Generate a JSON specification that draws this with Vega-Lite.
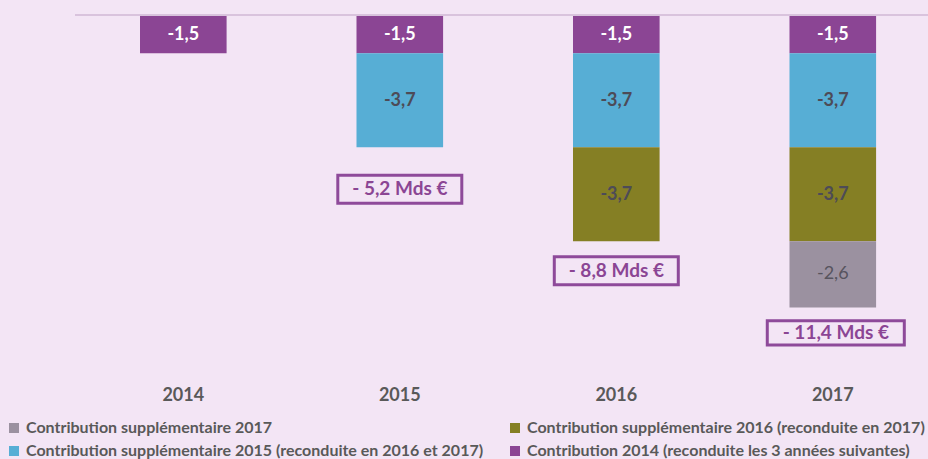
{
  "$schema": "https://vega.github.io/schema/vega-lite/v6.json",
  "width": 853,
  "height": 356,
  "autosize": {"type": "none"},
  "padding": {"left": 75, "top": 15, "right": 0, "bottom": 88},
  "background": "#F3E5F5",
  "config": {
    "font": "Lato",
    "view": {"stroke": null},
    "locale": {"number": {"decimal": ",", "thousands": " ", "grouping": [3], "currency": ["", " €"], "minus": "-"}}
  },
  "datasets": {
    "contrib": [
      {"year": "2014", "series": "Contribution 2014 (reconduite les 3 années suivantes)", "layer": 1, "value": -1.5},
      {"year": "2015", "series": "Contribution 2014 (reconduite les 3 années suivantes)", "layer": 1, "value": -1.5},
      {"year": "2015", "series": "Contribution supplémentaire 2015 (reconduite en 2016 et 2017)", "layer": 2, "value": -3.7},
      {"year": "2016", "series": "Contribution 2014 (reconduite les 3 années suivantes)", "layer": 1, "value": -1.5},
      {"year": "2016", "series": "Contribution supplémentaire 2015 (reconduite en 2016 et 2017)", "layer": 2, "value": -3.7},
      {"year": "2016", "series": "Contribution supplémentaire 2016 (reconduite en 2017)", "layer": 3, "value": -3.7},
      {"year": "2017", "series": "Contribution 2014 (reconduite les 3 années suivantes)", "layer": 1, "value": -1.5},
      {"year": "2017", "series": "Contribution supplémentaire 2015 (reconduite en 2016 et 2017)", "layer": 2, "value": -3.7},
      {"year": "2017", "series": "Contribution supplémentaire 2016 (reconduite en 2017)", "layer": 3, "value": -3.7},
      {"year": "2017", "series": "Contribution supplémentaire 2017", "layer": 4, "value": -2.6}
    ],
    "totals": [
      {"year": "2015", "total": -5.2, "label": "- 5,2 Mds €"},
      {"year": "2016", "total": -8.8, "label": "- 8,8 Mds €"},
      {"year": "2017", "total": -11.4, "label": "- 11,4 Mds €"}
    ]
  },
  "data": {"name": "contrib"},
  "transform": [
    {"stack": "value", "groupby": ["year"], "sort": [{"field": "layer", "order": "ascending"}], "as": ["v0", "v1"], "offset": "zero"}
  ],
  "encoding": {
    "x": {
      "field": "year",
      "type": "nominal",
      "sort": ["2014", "2015", "2016", "2017"],
      "scale": {"domain": ["2014", "2015", "2016", "2017"], "paddingInner": 0.6, "paddingOuter": 0.27, "align": 0.556},
      "axis": {
        "title": null,
        "orient": "bottom",
        "domain": false,
        "ticks": false,
        "labelAngle": 0,
        "labelFontSize": 18,
        "labelFontWeight": "bold",
        "labelColor": "#595959",
        "labelPadding": 15
      }
    }
  },
  "layer": [
    {
      "mark": {"type": "bar"},
      "encoding": {
        "y": {
          "field": "v0",
          "type": "quantitative",
          "scale": {"domain": [-14, 0], "nice": false, "zero": true},
          "axis": null
        },
        "y2": {"field": "v1"},
        "color": {
          "field": "series",
          "type": "nominal",
          "scale": {
            "domain": [
              "Contribution supplémentaire 2017",
              "Contribution supplémentaire 2015 (reconduite en 2016 et 2017)",
              "Contribution supplémentaire 2016 (reconduite en 2017)",
              "Contribution 2014 (reconduite les 3 années suivantes)"
            ],
            "range": ["#9B91A0", "#57AED5", "#857F24", "#8B4594"]
          },
          "legend": {
            "title": null,
            "orient": "none",
            "legendX": -69,
            "legendY": 405,
            "columns": 2,
            "symbolType": "square",
            "symbolSize": 100,
            "symbolStrokeWidth": 0,
            "labelFont": "Lato",
            "labelFontSize": 16,
            "labelFontWeight": "bold",
            "labelColor": "#595959",
            "labelLimit": 0,
            "labelOffset": 4,
            "rowPadding": 7,
            "columnPadding": 23,
            "padding": 0
          }
        }
      }
    },
    {
      "transform": [{"filter": "datum.layer === 1"}],
      "mark": {"type": "text", "fontSize": 18, "fontWeight": "bold", "baseline": "middle", "align": "center", "dy": 20, "color": "#FFFFFF"},
      "encoding": {
        "y": {"field": "v0", "type": "quantitative"},
        "text": {"field": "value", "type": "quantitative", "format": ".1f"}
      }
    },
    {
      "transform": [{"filter": "datum.layer === 2 || datum.layer === 3"}],
      "mark": {"type": "text", "fontSize": 18, "fontWeight": "bold", "baseline": "middle", "align": "center", "dy": 48, "color": "#4D4B57"},
      "encoding": {
        "y": {"field": "v0", "type": "quantitative"},
        "text": {"field": "value", "type": "quantitative", "format": ".1f"}
      }
    },
    {
      "transform": [{"filter": "datum.layer === 4"}],
      "mark": {"type": "text", "fontSize": 18, "fontWeight": "normal", "baseline": "middle", "align": "center", "dy": 33, "color": "#57545E"},
      "encoding": {
        "y": {"field": "v0", "type": "quantitative"},
        "text": {"field": "value", "type": "quantitative", "format": ".1f"}
      }
    },
    {
      "mark": {"type": "rule", "color": "#D8C3DC", "strokeWidth": 1.5},
      "encoding": {"y": {"datum": 0}, "x": {"value": 0}, "x2": {"value": 853}}
    },
    {
      "data": {"name": "totals"},
      "transform": [{"filter": "datum.year === '2015'"}],
      "layer": [
        {
          "mark": {"type": "point", "filled": false, "stroke": "#8E4A9A", "strokeWidth": 3, "opacity": 1, "size": 15376, "shape": "M-1,-0.226H1V0.226H-1Z", "yOffset": 42},
          "encoding": {"y": {"field": "total", "type": "quantitative"}}
        },
        {
          "mark": {"type": "text", "fontSize": 19, "fontWeight": "bold", "color": "#8B4594", "baseline": "middle", "align": "center", "yOffset": 42},
          "encoding": {"y": {"field": "total", "type": "quantitative"}, "text": {"field": "label"}}
        }
      ]
    },
    {
      "data": {"name": "totals"},
      "transform": [{"filter": "datum.year === '2016'"}],
      "layer": [
        {
          "mark": {"type": "point", "filled": false, "stroke": "#8E4A9A", "strokeWidth": 3, "opacity": 1, "size": 15376, "shape": "M-1,-0.226H1V0.226H-1Z", "yOffset": 32},
          "encoding": {"y": {"field": "total", "type": "quantitative"}}
        },
        {
          "mark": {"type": "text", "fontSize": 19, "fontWeight": "bold", "color": "#8B4594", "baseline": "middle", "align": "center", "yOffset": 32},
          "encoding": {"y": {"field": "total", "type": "quantitative"}, "text": {"field": "label"}}
        }
      ]
    },
    {
      "data": {"name": "totals"},
      "transform": [{"filter": "datum.year === '2017'"}],
      "layer": [
        {
          "mark": {"type": "point", "filled": false, "stroke": "#8E4A9A", "strokeWidth": 3, "opacity": 1, "size": 15376, "shape": "M-1.105,-0.194H1.105V0.194H-1.105Z", "yOffset": 28, "xOffset": 3},
          "encoding": {"y": {"field": "total", "type": "quantitative"}}
        },
        {
          "mark": {"type": "text", "fontSize": 19, "fontWeight": "bold", "color": "#8B4594", "baseline": "middle", "align": "center", "yOffset": 28, "xOffset": 3},
          "encoding": {"y": {"field": "total", "type": "quantitative"}, "text": {"field": "label"}}
        }
      ]
    }
  ]
}
